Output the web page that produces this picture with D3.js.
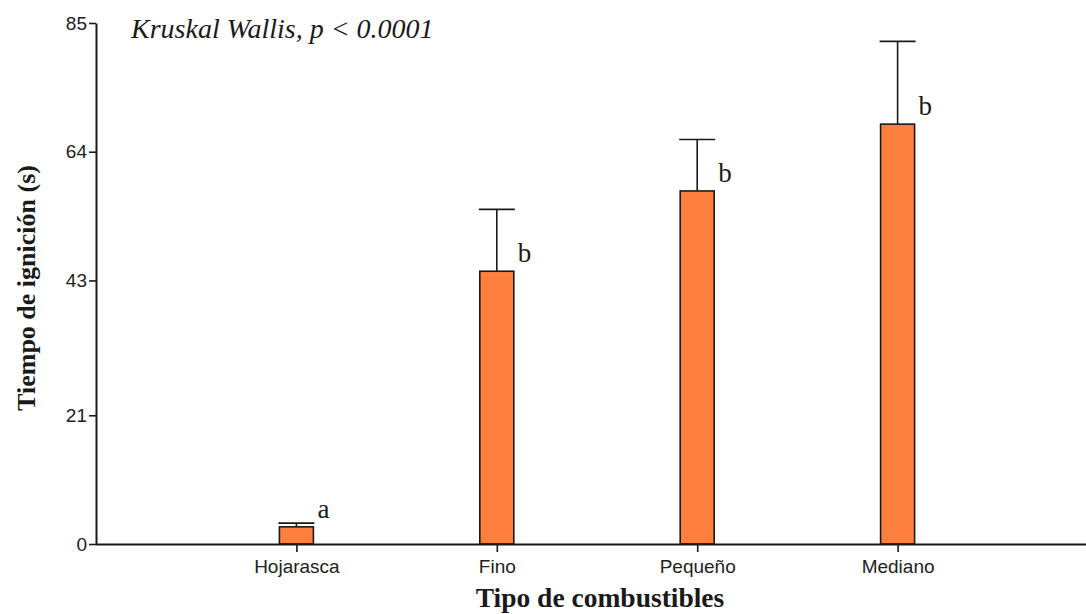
<!DOCTYPE html>
<html>
<head>
<meta charset="utf-8">
<script src="https://cdn.jsdelivr.net/npm/d3@7"></script>
<style>
  html, body { margin: 0; padding: 0; background: #fff; }
  svg { display: block; }
</style>
</head>
<body>
<svg id="chart" width="1086" height="614"></svg>
<script>
// Fuel types and mean ignition time (s) with upper error (mean + SE)
const categories = ["Hojarasca", "Fino", "Pequeño", "Mediano"];
const means = [2.8, 44.5, 57.6, 68.5];
const upper = [3.4, 54.6, 66.0, 82.0];
const groups = ["a", "b", "b", "b"];
const yTicks = [0, 21, 43, 64, 85];

const svg = d3.select("#chart");
const ink = "#1a1a1a";

const x0 = 96, yBottom = 544, yTop = 23;
const x = d3.scalePoint().domain(categories).range([x0, 1098]).padding(1);
const y = d3.scaleLinear().domain([0, 85]).range([yBottom, yTop]);

const barW = 34, capW = 36;

// Bars
svg.selectAll("rect.bar").data(categories).join("rect")
  .attr("class", "bar")
  .attr("x", d => x(d) - barW / 2)
  .attr("y", (d, i) => y(means[i]))
  .attr("width", barW)
  .attr("height", (d, i) => y(0) - y(means[i]))
  .attr("fill", "#ff7f3f")
  .attr("stroke", ink)
  .attr("stroke-width", 1.6);

// Error bars (upper only)
svg.selectAll("line.err").data(categories).join("line")
  .attr("class", "err")
  .attr("x1", d => x(d)).attr("x2", d => x(d))
  .attr("y1", (d, i) => y(means[i])).attr("y2", (d, i) => y(upper[i]))
  .attr("stroke", ink).attr("stroke-width", 1.6);
svg.selectAll("line.cap").data(categories).join("line")
  .attr("class", "cap")
  .attr("x1", d => x(d) - capW / 2).attr("x2", d => x(d) + capW / 2)
  .attr("y1", (d, i) => y(upper[i])).attr("y2", (d, i) => y(upper[i]))
  .attr("stroke", ink).attr("stroke-width", 1.6);

// Group letters
svg.selectAll("text.grp").data(categories).join("text")
  .attr("class", "grp")
  .attr("x", d => x(d) + barW / 2 + 4)
  .attr("y", (d, i) => y(means[i]) - 9)
  .attr("font-family", "Liberation Serif, serif")
  .attr("font-size", 27)
  .attr("fill", ink)
  .text((d, i) => groups[i]);

// Y axis
const yAxis = svg.append("g")
  .attr("transform", `translate(${x0},0)`)
  .call(d3.axisLeft(y).tickValues(yTicks).tickSize(7).tickPadding(2).tickSizeOuter(0));
yAxis.select(".domain").attr("stroke", ink).attr("stroke-width", 2);
yAxis.selectAll(".tick line").attr("stroke", ink).attr("stroke-width", 1.6);
yAxis.selectAll(".tick text")
  .attr("font-family", "Liberation Sans, Arial, sans-serif")
  .attr("font-size", 19).attr("fill", "#222");

// X axis
const xAxis = svg.append("g")
  .attr("transform", `translate(0,${yBottom})`)
  .call(d3.axisBottom(x).tickSize(8).tickPadding(8).tickSizeOuter(0));
xAxis.select(".domain").attr("d", `M${x0},0.5H1086`).attr("stroke", ink).attr("stroke-width", 2);
xAxis.selectAll(".tick line").attr("stroke", ink).attr("stroke-width", 1.6);
xAxis.selectAll(".tick text")
  .attr("font-family", "Liberation Sans, Arial, sans-serif")
  .attr("font-size", 19).attr("fill", "#222");

// Axis titles
svg.append("text")
  .attr("x", 600).attr("y", 607)
  .attr("text-anchor", "middle")
  .attr("font-family", "Liberation Serif, serif")
  .attr("font-weight", "bold")
  .attr("font-size", 27.5)
  .attr("fill", ink)
  .text("Tipo de combustibles");

svg.append("text")
  .attr("transform", "translate(35,288) rotate(-90)")
  .attr("text-anchor", "middle")
  .attr("font-family", "Liberation Serif, serif")
  .attr("font-weight", "bold")
  .attr("font-size", 26)
  .attr("fill", ink)
  .text("Tiempo de ignición (s)");

// Test annotation
svg.append("text")
  .attr("x", 131).attr("y", 38)
  .attr("font-family", "Liberation Serif, serif")
  .attr("font-style", "italic")
  .attr("font-size", 28)
  .attr("fill", ink)
  .text("Kruskal Wallis, p < 0.0001");
</script>
</body>
</html>
